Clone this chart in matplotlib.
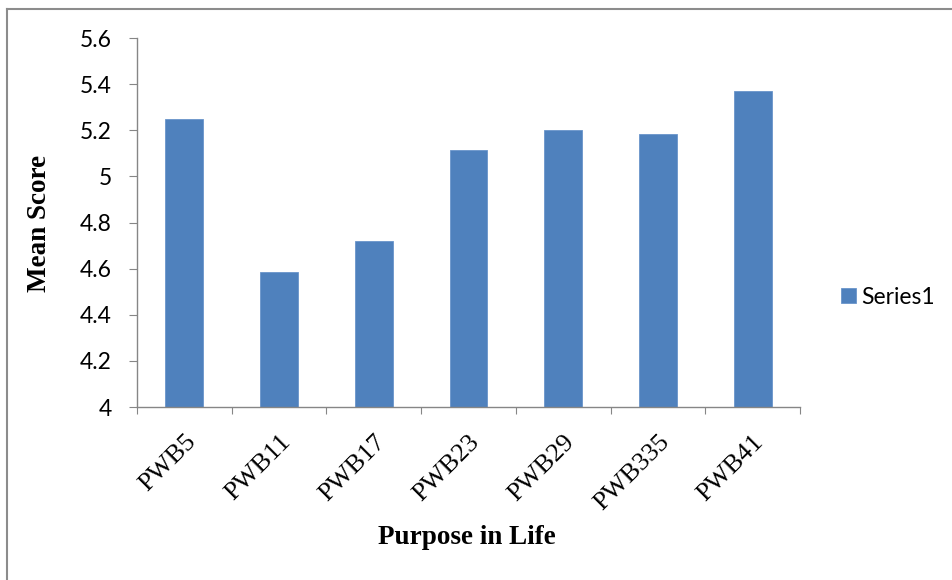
import numpy as np
import matplotlib
matplotlib.use('Agg')
import matplotlib.pyplot as plt
from matplotlib.lines import Line2D

categories = ['PWB5', 'PWB11', 'PWB17', 'PWB23', 'PWB29', 'PWB335', 'PWB41']
mean_scores = [5.25, 4.585, 4.72, 5.115, 5.20, 5.185, 5.37]
y_ticks = [4, 4.2, 4.4, 4.6, 4.8, 5, 5.2, 5.4, 5.6]
y_tick_labels = ['4', '4.2', '4.4', '4.6', '4.8', '5', '5.2', '5.4', '5.6']

W, H = 952, 580
fig = plt.figure(figsize=(W/100, H/100), dpi=100)
ax = fig.add_axes([137/W, 1-407/H, (800-137)/W, (407-38)/H])

x = np.arange(len(categories))
ax.bar(x, mean_scores, width=0.4, color='#4F81BD', edgecolor='#6A95CB',
       linewidth=0.6, label='Series1', zorder=2)

ax.set_xlim(-0.5, len(categories)-0.5)
ax.set_ylim(4, 5.6)

grey = '#868686'
for s in ['top', 'right']:
    ax.spines[s].set_visible(False)
for s in ['left', 'bottom']:
    ax.spines[s].set_color(grey)
    ax.spines[s].set_linewidth(1.0)

ax.set_yticks(y_ticks)
ax.set_yticklabels(y_tick_labels, fontsize=16.5, fontfamily='Lato')
ax.tick_params(axis='y', direction='out', length=6, color=grey, pad=12)

# ticks between categories, labels at centres
ax.set_xticks(np.arange(-0.5, len(categories), 1.0))
ax.set_xticklabels([])
ax.tick_params(axis='x', which='major', direction='out', length=5, color=grey)
ax.set_xticks(x, minor=True)
ax.set_xticklabels(categories, minor=True, rotation=45, ha='right',
                   rotation_mode='anchor', fontsize=19,
                   fontfamily='Liberation Serif')
ax.tick_params(axis='x', which='minor', length=0, pad=17)

fig.text(40/W, 1-223/H, 'Mean Score', rotation=90, ha='center', va='center',
         fontsize=19.5, fontweight='bold', fontfamily='Liberation Serif')
fig.text(467/W, 1-537/H, 'Purpose in Life', ha='center', va='center',
         fontsize=19.5, fontweight='bold', fontfamily='Liberation Serif')

leg = ax.legend(loc='center left', bbox_to_anchor=(841/W, 1-297/H),
                bbox_transform=fig.transFigure, frameon=False,
                prop={'family': 'Lato', 'size': 16.5}, borderpad=0,
                borderaxespad=0, handlelength=0.65, handleheight=0.65,
                handletextpad=0.25)

# partial outer chart border (top and left edges only)
fig.add_artist(Line2D([7/W, 7/W], [0, 1-8.5/H], color='#8C8C8C', lw=1.5,
                      transform=fig.transFigure))
fig.add_artist(Line2D([7/W, 1], [1-8.5/H, 1-8.5/H], color='#8C8C8C', lw=1.5,
                      transform=fig.transFigure))

fig.savefig('out.png', dpi=100)
